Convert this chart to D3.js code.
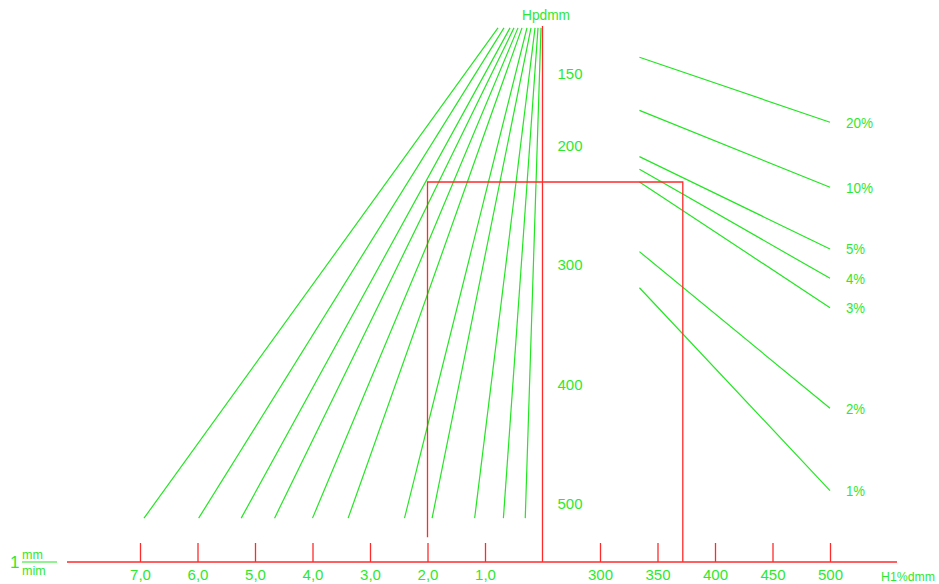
<!DOCTYPE html>
<html>
<head>
<meta charset="utf-8">
<script src="https://cdn.jsdelivr.net/npm/d3@7"></script>
<style>
  body { margin: 0; background: #fff; }
  svg text { font-family: "Liberation Sans", Arial, sans-serif; fill: #2ee82e; }
</style>
</head>
<body>
<figure style="margin:0"></figure>
<script>
// Hp scale (dmm) on the central vertical axis
const hpTicks = [150, 200, 300, 400, 500];
// left bottom scale (mm/min) and right bottom scale (H1% dmm)
const leftTicks = [7, 6, 5, 4, 3, 2, 1];
const rightTicks = [300, 350, 400, 450, 500];

// fan of lines on the left: top and bottom ends on the left scale
const fanTop = [0.774, 0.670, 0.565, 0.496, 0.426, 0.357, 0.270, 0.200, 0.130, 0.078, 0.026];
const fanBottom = [6.93, 5.98, 5.24, 4.66, 4.00, 3.38, 2.40, 1.92, 1.18, 0.68, 0.30];
const fanTopHp = 118;
const fanBottomHp = 512;

// probability lines on the right
const pctLabels = ['20%', '10%', '5%', '4%', '3%', '2%', '1%'];
const pctStartHp = [138.5, 175.6, 209.5, 220.1, 230.7, 289.0, 319.2];
const pctEndHp = [183.9, 235.1, 286.8, 311.3, 335.9, 420.1, 489.0];
const pctStartH1 = 334.3;
const pctEndH1 = 500;

// worked example (red frame)
const exampleHp = 230.7;
const exampleLeft = 2.0;
const exampleH1 = 372;
const exampleLowHp = 528;

(() => {
  const width = 939;
  const height = 584;
  const axisY = 562;
  const green = '#22e622';
  const red = '#ff2a2a';

  const svg = d3.select('figure').append('svg')
    .attr('width', width)
    .attr('height', height)
    .style('background', '#fff');

  const y = d3.scaleLinear().domain([150, 200, 500]).range([73.7, 145.3, 503.8]);
  const xL = d3.scaleLinear().domain([0, 7]).range([542.5, 140]);
  const xR = d3.scaleLinear().domain([250, 500]).range([542.5, 830]);

  // fan lines
  svg.append('g').selectAll('line')
    .data(fanTop)
    .join('line')
      .attr('x1', (d) => xL(d))
      .attr('y1', y(fanTopHp))
      .attr('x2', (d, i) => xL(fanBottom[i]))
      .attr('y2', y(fanBottomHp))
      .attr('stroke', green)
      .attr('stroke-width', 1.2);

  // percent lines
  const pct = svg.append('g');
  pct.selectAll('line')
    .data(pctLabels)
    .join('line')
      .attr('x1', xR(pctStartH1))
      .attr('y1', (d, i) => y(pctStartHp[i]))
      .attr('x2', xR(pctEndH1))
      .attr('y2', (d, i) => y(pctEndHp[i]))
      .attr('stroke', green)
      .attr('stroke-width', 1.2);
  pct.selectAll('text')
    .data(pctLabels)
    .join('text')
      .attr('x', xR(pctEndH1) + 16)
      .attr('y', (d, i) => y(pctEndHp[i]))
      .attr('dy', '0.36em')
      .attr('font-size', 15)
      .attr('textLength', (d) => d.length > 2 ? 27 : 19)
      .attr('lengthAdjust', 'spacingAndGlyphs')
      .text((d) => d);

  // red frame of the example
  svg.append('path')
    .attr('d', 'M' + xL(exampleLeft) + ',' + y(exampleLowHp) +
      'V' + y(exampleHp) + 'H' + xR(exampleH1) + 'V' + axisY)
    .attr('fill', 'none')
    .attr('stroke', red)
    .attr('stroke-width', 1.3);

  // central Hp axis
  svg.append('line')
    .attr('x1', xL(0)).attr('x2', xL(0))
    .attr('y1', 26).attr('y2', axisY)
    .attr('stroke', red)
    .attr('stroke-width', 1.3);

  const hpAxis = svg.append('g')
    .attr('transform', 'translate(' + xL(0) + ',0)')
    .call(d3.axisRight(y).tickValues(hpTicks).tickSize(0).tickPadding(15));
  hpAxis.select('.domain').remove();

  svg.append('text')
    .attr('x', 522)
    .attr('y', 15)
    .attr('dy', '0.36em')
    .attr('font-size', 15)
    .attr('textLength', 48)
    .attr('lengthAdjust', 'spacingAndGlyphs')
    .text('Hpdmm');

  // bottom axis line
  svg.append('line')
    .attr('x1', 67).attr('x2', 897)
    .attr('y1', axisY).attr('y2', axisY)
    .attr('stroke', red)
    .attr('stroke-width', 1.3);

  const leftAxis = svg.append('g')
    .attr('transform', 'translate(0,' + axisY + ')')
    .call(d3.axisBottom(xL).tickValues(leftTicks)
      .tickSizeInner(-19).tickSizeOuter(0).tickPadding(7)
      .tickFormat((d) => d.toFixed(1).replace('.', ',')));

  const rightAxis = svg.append('g')
    .attr('transform', 'translate(0,' + axisY + ')')
    .call(d3.axisBottom(xR).tickValues(rightTicks)
      .tickSizeInner(-19).tickSizeOuter(0).tickPadding(7));

  [hpAxis, leftAxis, rightAxis].forEach((a) => {
    a.attr('font-family', null).attr('font-size', 15);
    a.select('.domain').remove();
    a.selectAll('.tick line').attr('stroke', red).attr('stroke-width', 1.3);
    a.selectAll('.tick text').attr('fill', green);
  });

  svg.append('text')
    .attr('x', 881)
    .attr('y', 576)
    .attr('dy', '0.36em')
    .attr('font-size', 13)
    .attr('textLength', 54)
    .attr('lengthAdjust', 'spacingAndGlyphs')
    .text('H1%dmm');

  // unit fraction on the left
  svg.append('text')
    .attr('x', 10).attr('y', 568)
    .attr('font-size', 17)
    .text('1');
  svg.append('text')
    .attr('x', 22).attr('y', 559)
    .attr('font-size', 12.5)
    .text('mm');
  svg.append('line')
    .attr('x1', 22).attr('x2', 57)
    .attr('y1', 562).attr('y2', 562)
    .attr('stroke', green)
    .attr('stroke-width', 1.2);
  svg.append('text')
    .attr('x', 22).attr('y', 575)
    .attr('font-size', 12.5)
    .text('mim');
})();
</script>
</body>
</html>
